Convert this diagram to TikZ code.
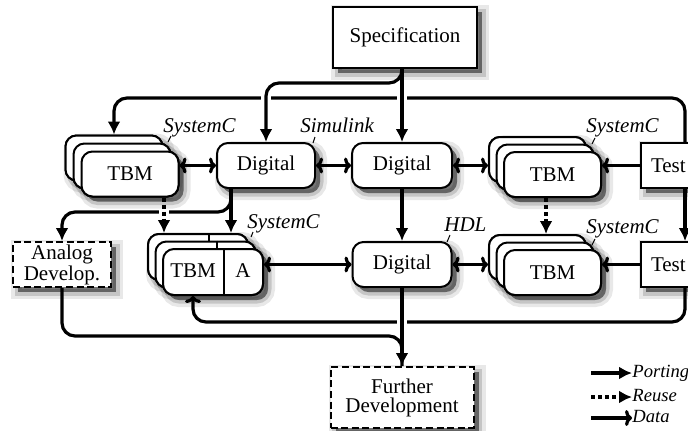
\documentclass[tikz,border=0pt]{standalone}
\usepackage{fontspec}
\setmainfont{Liberation Serif}
\usetikzlibrary{arrows.meta,shadows,calc}
\newcommand\mystack[4]{% name, x, y, offset
  \node[card, sh] (#1s3) at ({#2-2*#4},{#3-2*#4}) {};
  \node[card, sh] (#1s2) at ({#2-#4},{#3-#4}) {};
  \node[card, sh] (#1s1) at (#2,#3) {};
  \node[card] (#1b) at ({#2-2*#4},{#3-2*#4}) {};
  \node[card] (#1m) at ({#2-#4},{#3-#4}) {};
  \node[card] (#1) at (#2,#3) {TBM};
}
\begin{document}
\begin{tikzpicture}[x=0.5pt,y=-0.5pt,
  font=\fontsize{10.5}{12.5}\selectfont,
  sh/.style={
    general shadow={shadow xshift=2.5pt,shadow yshift=-2.5pt,fill=black,draw=black,solid,opacity=0.09,line width=7pt},
    general shadow={shadow xshift=2.5pt,shadow yshift=-2.5pt,fill=black,draw=black,solid,opacity=0.15,line width=3.5pt},
    general shadow={shadow xshift=2.5pt,shadow yshift=-2.5pt,fill=black,draw=none,opacity=0.35}},
  box/.style={draw, line width=1pt, fill=white, inner sep=0pt},
  rbox/.style={box, rounded corners=5.5pt},
  dbox/.style={box, dash pattern=on 3.5pt off 1.8pt, align=center, font=\fontsize{10.5}{9.5}\selectfont},
  card/.style={rbox, minimum width=48.5pt, minimum height=22.5pt},
  cardA/.style={rbox, minimum width=50pt, minimum height=23pt},
  lbl/.style={font=\fontsize{10.5}{12.5}\selectfont\itshape, inner sep=0pt, anchor=base west},
  leg/.style={font=\fontsize{9.3}{11}\selectfont\itshape, inner sep=0pt, anchor=base west},
  tick/.style={line width=0.5pt},
  conn/.style={line width=1.6pt, rounded corners=6.5pt},
  port/.style={conn, -{Latex[length=6.5pt,width=6.5pt]}},
  reuse/.style={conn, dash pattern=on 2pt off 1.5pt, -{Latex[length=6.5pt,width=6.5pt]}},
  data/.style={conn, -{To[length=3.5pt,width=8pt]}},
  bidata/.style={conn, {To[length=3.5pt,width=8pt]}-{To[length=3.5pt,width=8pt]}},
  gap/.style={white, line width=3.4pt},
]
\useasboundingbox (0,0) rectangle (688,430);
\clip (0,0) rectangle (688,430);

% ---------- boxes ----------
\node[box, sh, minimum width=72pt, minimum height=30.5pt] (spec) at (405,37.5) {Specification};
\node[rbox, sh, minimum width=49pt, minimum height=22.5pt] (dig1) at (266,165.5) {Digital};
\node[rbox, sh, minimum width=50pt, minimum height=22.5pt] (dig2) at (402,165.5) {Digital};
\node[rbox, sh, minimum width=49.5pt, minimum height=22.5pt] (dig3) at (402,264.5) {Digital};
\node[dbox, sh, minimum width=49pt, minimum height=22.5pt] (analog) at (62,264.5) {Analog\\Develop.};
\node[dbox, sh, minimum width=71.5pt, minimum height=30.5pt] (further) at (402,397.5) {Further\\Development};
\node[box, sh, anchor=west, text width=30pt, inner xsep=5pt, align=left, minimum height=22.5pt] (test1) at (640,165.5) {Test};
\node[box, sh, anchor=west, text width=30pt, inner xsep=5pt, align=left, minimum height=22.5pt] (test2) at (640,264.5) {Test};

\mystack{tbm1}{130}{174}{8}
\mystack{tbm2}{552.5}{174.5}{7.5}
\mystack{tbm3}{552.5}{272.5}{7.5}

% TBM | A stack
\node[cardA, sh] (tbmAs3) at (198,257) {};
\node[cardA, sh] (tbmAs2) at (205.5,264.5) {};
\node[cardA, sh] (tbmAs1) at (213,272) {};
\node[cardA] (tbmAb) at (198,257) {};
\draw[line width=1pt] ($(tbmAb.north)+(11,0)$) -- ($(tbmAb.south)+(11,0)$);
\node[cardA] (tbmAm) at (205.5,264.5) {};
\draw[line width=1pt] ($(tbmAm.north)+(11,0)$) -- ($(tbmAm.south)+(11,0)$);
\node[cardA] (tbmA) at (213,272) {};
\draw[line width=1pt] ($(tbmA.north)+(11,0)$) -- ($(tbmA.south)+(11,0)$);
\node[inner sep=0pt] (tbmAt) at (193,271) {TBM};
\node[inner sep=0pt] (tbmAa) at (243,271) {A};

% ---------- helper coordinates ----------
\coordinate (yA) at (0,98);
\coordinate (yB) at (0,83);
\coordinate (yC) at (0,212);
\coordinate (yD) at (0,322);
\coordinate (yE) at (0,336);
\coordinate (xR) at (685,0);
\coordinate (xa) at (231,0);
\coordinate (xr1) at (164,0);
\coordinate (xr2) at (546,0);

% ---------- lines that get bridged ----------
\draw[port] (test1.north -| xR) -- (xR |- yA) -- (tbm1b.north |- yA) -- (tbm1b.north);
\draw[gap] ($(dig2.north |- yA)+(-5,0)$) -- ++(10,0);
\draw[gap] ($(dig1.north |- yA)+(-5,0)$) -- ++(10,0);

\draw[data] (test2.south -| xR) -- (xR |- yD) -- (tbmAt |- yD) -- (tbmAt |- tbmA.south);
\draw[gap] ($(dig3.south |- yD)+(-5,0)$) -- ++(10,0);

\draw[port] (dig1.south -| xa) -- (xa |- yC) -- (analog.north |- yC) -- (analog.north);
\draw[gap] ($(xr1 |- yC)+(-5,0)$) -- ++(10,0);

% ---------- other connectors ----------
\draw[port] (spec.south -| dig2.north) -- (dig2.north);
\draw[port] (spec.south -| dig2.north) |- (dig1.north |- yB) -- (dig1.north);
\draw[port] (test1.south -| xR) -- (test2.north -| xR);
\draw[port] (dig2.south) -- (dig3.north);
\draw[port] (dig3.south) -- (further.north);
\draw[conn] (analog.south) -- (analog.south |- yE) -- (further.north |- yE) -- (further.north);
\draw[port] (dig1.south -| xa) -- (tbmAb.north -| xa);
\draw[reuse] (tbm1.south -| xr1) -- (tbmAb.north -| xr1);
\draw[reuse] (tbm2.south -| xr2) -- (tbm3b.north -| xr2);

\draw[bidata] (dig1.west -| tbm1.east) -- (dig1.west);
\draw[bidata] (dig1.east) -- (dig2.west);
\draw[bidata] (dig2.east) -- (dig2.east -| tbm2b.west);
\draw[data] (test1.west) -- (test1.west -| tbm2.east);
\draw[bidata] (dig3.west -| tbmA.east) -- (dig3.west);
\draw[bidata] (dig3.east) -- (dig3.east -| tbm3b.west);
\draw[data] (test2.west) -- (test2.west -| tbm3.east);

% ---------- labels ----------
\node[lbl] (l1) at (163,132) {SystemC};
\draw[tick] (l1.base west) ++(5,10) -- ++(3,-6);
\node[lbl] (l2) at (300,132) {Simulink};
\draw[tick] (l2.base west) ++(13,11) -- ++(2,-6);
\node[lbl] (l3) at (586,132) {SystemC};
\draw[tick] (l3.base west) ++(6,12) -- ++(3,-6);
\node[lbl] (l4) at (247,228) {SystemC};
\draw[tick] (l4.base west) ++(4,9) -- ++(2,-5);
\node[lbl] (l5) at (444,231) {HDL};
\draw[tick] (l5.base west) ++(3,11) -- ++(3,-7);
\node[lbl] (l6) at (586,233) {SystemC};
\draw[tick] (l6.base west) ++(6,12) -- ++(3,-6);

% ---------- legend ----------
\node[leg] (lp) at (632,377) {Porting};
\node[leg] (lr) at (632,401) {Reuse};
\node[leg] (ld) at (632,422) {Data};
\coordinate (lps) at (591,373);
\coordinate (lrs) at (591,397);
\coordinate (lds) at (591,418);
\draw[port] (lps) -- (lps -| lp.west);
\draw[reuse] (lrs) -- (lrs -| lr.west);
\draw[data] (lds) -- (lds -| ld.west);
\end{tikzpicture}
\end{document}
